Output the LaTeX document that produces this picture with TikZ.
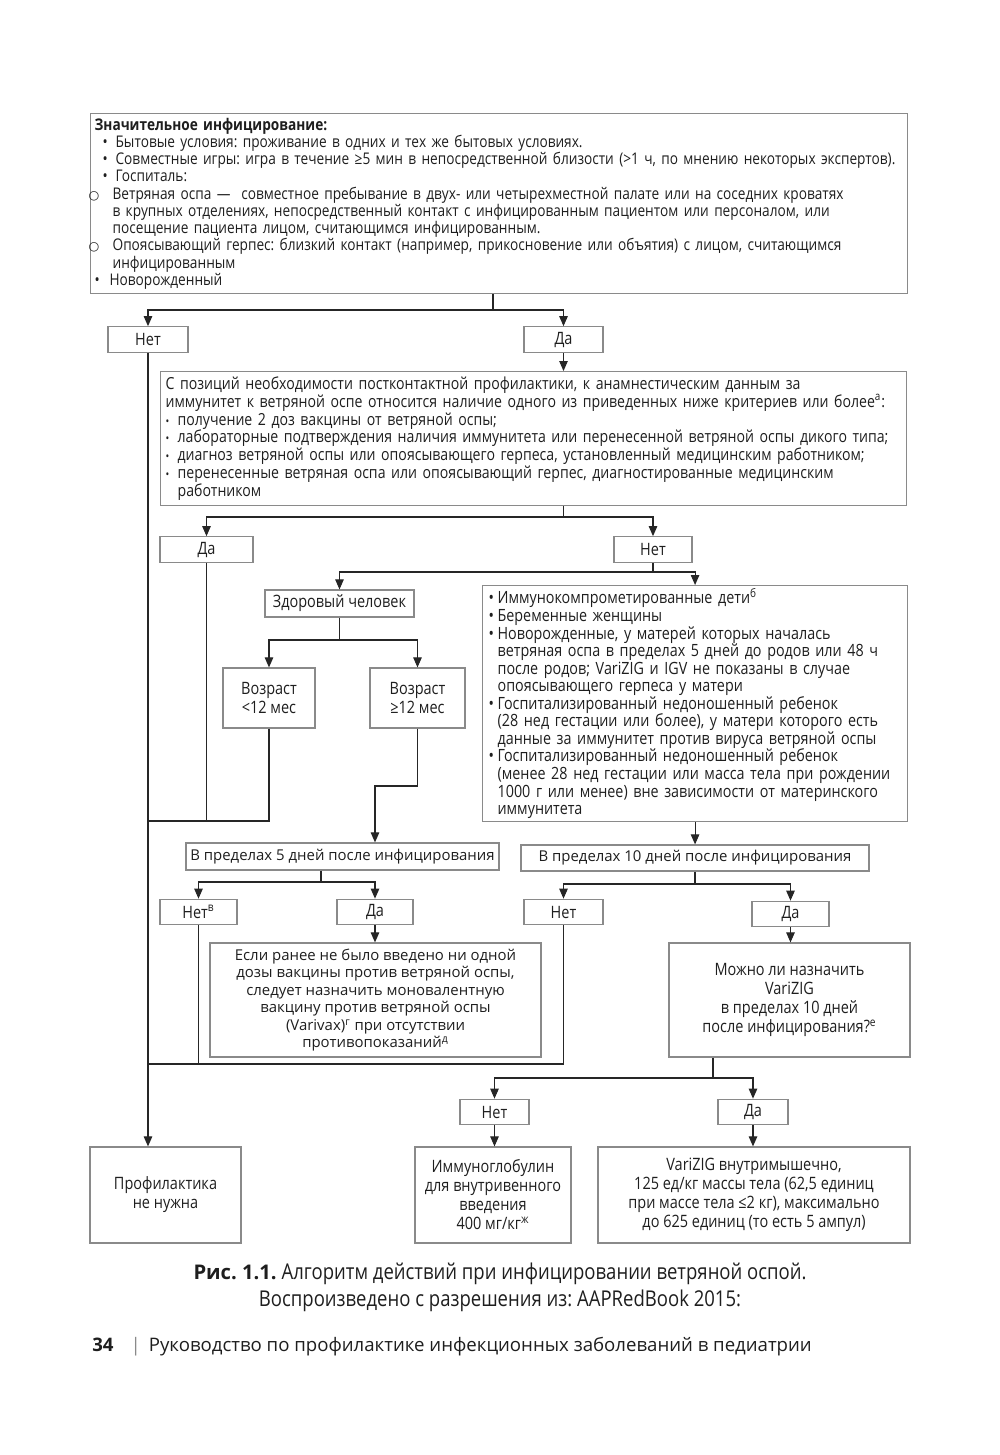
\documentclass[tikz,border=0pt]{standalone}
\usepackage{fontspec}
\setmainfont{Open Sans}
\newfontfamily\narrowfont[FakeStretch=0.85]{Open Sans}
\newfontfamily\symfont{DejaVu Sans}
\usetikzlibrary{arrows.meta, positioning}
\frenchspacing
\definecolor{clrBorder}{HTML}{8A8A8A}
\definecolor{clrLine}{HTML}{262626}
\definecolor{clrText}{HTML}{1E1E1E}
\newcommand{\bul}[1][0.4cm]{\makebox[#1][l]{•}}
\newcommand{\topbul}{\makebox[0.42cm][c]{•}}
\newcommand{\smallbul}{\makebox[0.24cm][l]{\scalebox{0.7}{•}}}
\newcommand{\circitem}{\hspace*{-0.12cm}\makebox[0.48cm][l]{{\symfont\scriptsize ○}}}
\tikzset{
  box/.style = {rectangle, draw=clrBorder, line width=0.7pt, text=clrText, inner sep=0pt,
                align=center, font=\narrowfont\fontsize{9.7}{10.8}\selectfont},
  textbox/.style = {box, anchor=north west, align=left, inner xsep=0.12cm},
  widebox/.style = {box, font=\fontsize{8.5}{10}\selectfont},
  answer/.style = {box, minimum height=0.51cm},
  link/.style = {draw=clrLine, line width=0.6pt},
  arrow/.style = {link, -{Triangle[length=0.2cm, width=0.17cm]}},
}

\begin{document}
\begin{tikzpicture}[x=0.02cm, y=-0.02cm]
  \useasboundingbox (0,0) rectangle (1000,1455);

  % --- Exposure ---
  \node[textbox, font=\narrowfont\fontsize{9.15}{9.8}\selectfont, text width=16.18cm,
        inner xsep=0.08cm, minimum height=3.6cm] at (90,113) (exposure)
    {\textbf{Значительное инфицирование:}\\
     \topbul Бытовые условия: проживание в одних и тех же бытовых условиях.\\
     \topbul Совместные игры: игра в течение ≥5 мин в непосредственной близости (>1 ч, по мнению некоторых экспертов).\\
     \topbul Госпиталь:\\
     \circitem Ветряная оспа —\ \ совместное пребывание в двух- или четырехместной палате или на соседних кроватях\\
     \hspace*{0.36cm}в крупных отделениях, непосредственный контакт с инфицированным пациентом или персоналом, или\\
     \hspace*{0.36cm}посещение пациента лицом, считающимся инфицированным.\\
     \circitem Опоясывающий герпес: близкий контакт (например, прикосновение или объятия) с лицом, считающимся\\
     \hspace*{0.36cm}инфицированным\\
     \bul[0.3cm]Новорожденный};

  \node[answer, minimum width=1.6cm]  at (148,339.5)   (noA)  {Нет};
  \node[answer, minimum width=1.58cm] at (563.5,339.5) (yesA) {Да};

  \coordinate (splitA) at (493,310);
  \draw[link]  (exposure.south -| splitA) -- (splitA);
  \draw[arrow] (splitA) -| (noA.north);
  \draw[arrow] (splitA) -| (yesA.north);

  % --- Immunity evidence ---
  \node[textbox, font=\narrowfont\fontsize{9.45}{10.2}\selectfont, text width=14.72cm,
        inner xsep=0.1cm, minimum height=2.68cm] at (160,371) (immunity)
    {С позиций необходимости постконтактной профилактики, к анамнестическим данным за\\
     иммунитет к ветряной оспе относится наличие одного из приведенных ниже критериев или более\textsuperscript{а}:\\
     \smallbul получение 2 доз вакцины от ветряной оспы;\\
     \smallbul лабораторные подтверждения наличия иммунитета или перенесенной ветряной оспы дикого типа;\\
     \smallbul диагноз ветряной оспы или опоясывающего герпеса, установленный медицинским работником;\\
     \smallbul перенесенные ветряная оспа или опоясывающий герпес, диагностированные медицинским\\
     \hspace*{0.24cm}работником};
  \draw[arrow] (yesA.south) -- (yesA.south |- immunity.north);

  \node[answer, minimum width=1.86cm] at (206.5,549.5) (yesB) {Да};
  \node[answer, minimum width=1.56cm] at (653,549.5)   (noB)  {Нет};

  \coordinate (splitB) at (563.5,517);
  \draw[link]  (immunity.south -| splitB) -- (splitB);
  \draw[arrow] (splitB) -| (yesB.north);
  \draw[arrow] (splitB) -| (noB.north);

  % --- Healthy / high risk ---
  \node[box, minimum width=2.98cm, minimum height=0.54cm] at (339.5,603.5) (healthy) {Здоровый человек};
  \node[textbox, text width=8.26cm, minimum height=4.72cm, font=\narrowfont\fontsize{9.6}{10}\selectfont]
    at (482,585) (highrisk)
    {\bul[0.18cm]Иммунокомпрометированные дети\textsuperscript{б}\\
     \bul[0.18cm]Беременные женщины\\
     \bul[0.18cm]Новорожденные, у матерей которых началась\\
     \hspace*{0.18cm}ветряная оспа в пределах 5 дней до родов или 48 ч\\
     \hspace*{0.18cm}после родов; VariZIG и IGV не показаны в случае\\
     \hspace*{0.18cm}опоясывающего герпеса у матери\\
     \bul[0.18cm]Госпитализированный недоношенный ребенок\\
     \hspace*{0.18cm}(28 нед гестации или более), у матери которого есть\\
     \hspace*{0.18cm}данные за иммунитет против вируса ветряной оспы\\
     \bul[0.18cm]Госпитализированный недоношенный ребенок\\
     \hspace*{0.18cm}(менее 28 нед гестации или масса тела при рождении\\
     \hspace*{0.18cm}1000 г или менее) вне зависимости от материнского\\
     \hspace*{0.18cm}иммунитета};

  \coordinate (splitC) at (653,572);
  \draw[link]  (noB.south) -- (splitC);
  \draw[arrow] (splitC) -| (healthy.north);
  \draw[arrow] (splitC) -| (highrisk.north);

  \node[box, minimum width=1.84cm, minimum height=1.2cm] at (269,698)   (ageYoung) {Возраст\\<12 мес};
  \node[box, minimum width=1.9cm,  minimum height=1.2cm] at (417.5,698) (ageOld)   {Возраст\\≥12 мес};

  \coordinate (splitD) at (339.5,640);
  \draw[link]  (healthy.south) -- (splitD);
  \draw[arrow] (splitD) -| (ageYoung.north);
  \draw[arrow] (splitD) -| (ageOld.north);

  % --- Time windows ---
  \node[widebox, minimum width=6.26cm, minimum height=0.54cm] at (342.5,856.5) (within5)
    {В пределах 5 дней после инфицирования};
  \node[widebox, minimum width=6.96cm, minimum height=0.52cm] at (695,858) (within10)
    {В пределах 10 дней после инфицирования};

  \coordinate (bendA) at (375,786);
  \draw[arrow] (ageOld.south) |- (bendA) -- (bendA |- within5.north);
  \draw[arrow] (highrisk.south) -- (highrisk.south |- within10.north);

  \node[answer, minimum width=1.54cm] at (198.5,912) (noC)  {Нет\textsuperscript{в}};
  \node[answer, minimum width=1.52cm] at (375,912)   (yesC) {Да};
  \node[answer, minimum width=1.58cm] at (563.5,912) (noD)  {Нет};
  \node[answer, minimum width=1.54cm] at (790.5,914) (yesD) {Да};

  \coordinate (splitE) at (321,882);
  \draw[link]  (within5.south -| splitE) -- (splitE);
  \draw[arrow] (splitE) -| (noC.north);
  \draw[arrow] (splitE) -| (yesC.north);

  \coordinate (splitF) at (695,884);
  \draw[link]  (within10.south) -- (splitF);
  \draw[arrow] (splitF) -| (noD.north);
  \draw[arrow] (splitF) -| (yesD.north);

  \node[widebox, minimum width=6.62cm, minimum height=2.28cm]
    at (375.5,1000) (vaccine)
    {Если ранее не было введено ни одной\\
     дозы вакцины против ветряной оспы,\\
     следует назначить моновалентную\\
     вакцину против ветряной оспы\\
     (Varivax)\textsuperscript{г} при отсутствии\\
     противопоказаний\textsuperscript{д}};
  \node[box, minimum width=4.82cm, minimum height=2.28cm] at (789.5,1000) (varizigAsk)
    {Можно ли назначить\\ VariZIG\\ в пределах 10 дней\\ после инфицирования?\textsuperscript{е}};
  \draw[arrow] (yesC.south) -- (yesC.south |- vaccine.north);
  \draw[arrow] (yesD.south) -- (yesD.south |- varizigAsk.north);

  \node[answer, minimum width=1.38cm] at (494.5,1112) (noE)  {Нет};
  \node[answer, minimum width=1.4cm]  at (753,1112)   (yesE) {Да};

  \coordinate (splitG) at (713,1078);
  \draw[link]  (varizigAsk.south -| splitG) -- (splitG);
  \draw[arrow] (splitG) -| (noE.north);
  \draw[arrow] (splitG) -| (yesE.north);

  % --- Outcomes ---
  \node[box, minimum width=3.02cm, minimum height=1.92cm] at (165.5,1195) (noNeed)
    {Профилактика\\не нужна};
  \node[box, minimum width=3.12cm, minimum height=1.92cm] at (493,1195) (ivig)
    {Иммуноглобулин\\для внутривенного\\введения\\400 мг/кг\textsuperscript{ж}};
  \node[box, minimum width=6.24cm, minimum height=1.92cm] at (754,1195) (varizigDose)
    {VariZIG внутримышечно,\\125 ед/кг массы тела (62,5 единиц\\при массе тела ≤2 кг), максимально\\до 625 единиц (то есть 5 ампул)};
  \draw[arrow] (noE.south) -- (noE.south |- ivig.north);
  \draw[arrow] (yesE.south) -- (yesE.south |- varizigDose.north);

  % left trunk to "no prophylaxis"
  \coordinate (joinA) at (148,821);
  \coordinate (joinB) at (148,1064);
  \draw[arrow] (noA.south) -- (noA.south |- noNeed.north);
  \draw[link] (yesB.south) -- (yesB.south |- joinA);
  \draw[link] (ageYoung.south) |- (joinA);
  \draw[link] (noC.south) -- (noC.south |- joinB);
  \draw[link] (noD.south) |- (joinB);

  % Caption
  \node[font=\narrowfont\fontsize{12.4}{15.3}\selectfont, align=center, text=clrText]
    at (500,1287) (caption)
    {{\rmfamily\bfseries\fontsize{11.5}{15.3}\selectfont Рис. 1.1.} Алгоритм действий при инфицировании ветряной оспой.\\
     Воспроизведено с разрешения из: AAPRedBook 2015:};
  \node[font=\fontsize{10.6}{13}\selectfont, anchor=west, text=clrText, inner sep=0pt]
    at (92,1347) (footer)
    {\textbf{34}\hspace{0.34cm}{\color{clrBorder}|}\hspace{0.16cm}Руководство по профилактике инфекционных заболеваний в педиатрии};
\end{tikzpicture}
\end{document}
